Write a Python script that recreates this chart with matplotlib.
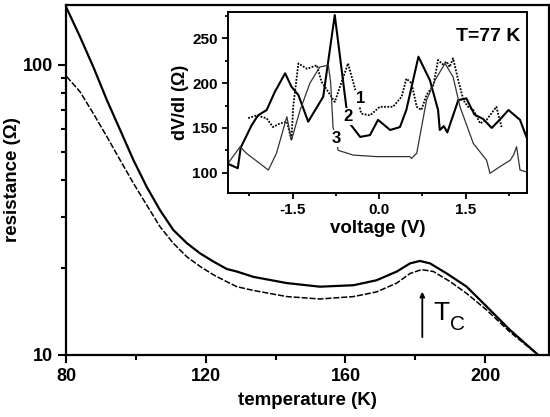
import numpy as np
import matplotlib
matplotlib.use("Agg")
import matplotlib.pyplot as plt
from matplotlib.ticker import FixedLocator, NullFormatter

plt.rcParams['font.family'] = ['Liberation Sans', 'DejaVu Sans']
plt.rcParams['font.weight'] = 'bold'
plt.rcParams['axes.labelweight'] = 'bold'

# ---- main panel: resistance vs temperature ----
temp_a = [80.2, 84.0, 87.8, 91.7, 95.5, 99.3, 103.1, 106.9, 110.7, 114.6, 118.4, 122.2, 126.0,
          128.9, 133.6, 143.2, 152.7, 162.3, 168.9, 174.7, 178.5, 181.3, 184.2, 189.0, 194.7,
          200.4, 207.1, 215.2]
res_a = [156.9, 125.2, 98.6, 75.7, 59.7, 47.0, 38.0, 31.6, 27.0, 24.3, 22.4, 21.0, 19.8,
         19.4, 18.6, 17.7, 17.2, 17.4, 18.1, 19.4, 20.7, 21.1, 20.7, 19.1, 17.2,
         14.7, 12.2, 10.0]
temp_b = [80.2, 84.0, 87.8, 91.7, 95.5, 99.3, 103.1, 106.9, 110.7, 114.6, 118.4, 122.2, 126.0,
          128.9, 133.6, 143.2, 152.7, 162.3, 168.9, 174.7, 178.5, 181.8, 185.2, 190.0, 194.7,
          200.4, 207.1, 215.2]
res_b = [91.2, 80.9, 68.1, 56.6, 47.0, 39.1, 32.9, 27.7, 24.3, 21.8, 20.2, 18.9, 17.9,
         17.2, 16.7, 15.9, 15.6, 15.9, 16.5, 17.7, 19.1, 19.7, 19.4, 17.9, 16.3,
         14.3, 12.0, 10.0]

# ---- inset: dV/dI vs voltage at T=77 K ----
volt_1 = [-2.27, -2.12, -1.95, -1.84, -1.72, -1.60, -1.52, -1.49, -1.40, -1.25, -1.08, -1.00, -0.92, -0.77,
          -0.62, -0.54, -0.42, -0.31, -0.16, 0.01, 0.24, 0.39, 0.47, 0.56, 0.65, 0.73, 0.82, 0.94, 1.02,
          1.10, 1.17, 1.22, 1.28, 1.37, 1.46, 1.54, 1.63, 1.75, 1.86, 2.03, 2.12]
dvdi_1 = [161, 164, 160.7, 151, 155, 157, 136.5, 173.6, 222, 216, 220, 201.6, 194, 179,
          207, 222, 194, 166, 164, 173.6, 173.6, 185, 205, 200, 173.6, 170, 186.7, 198, 225.8,
          221, 224, 218, 227.7, 203, 181, 173.6, 170, 155, 159, 173.6, 151]
volt_2 = [-2.62, -2.45, -2.40, -2.21, -2.10, -1.95, -1.81, -1.63, -1.52, -1.40, -1.23, -0.97, -0.77,
          -0.57, -0.51, -0.33, -0.16, -0.02, 0.19, 0.36, 0.47, 0.68, 0.88, 1.02, 1.05, 1.12, 1.18, 1.37,
          1.51, 1.65, 1.80, 1.95, 2.10, 2.24, 2.44, 2.55]
dvdi_2 = [110, 105, 128, 153, 164, 170, 190, 211, 196, 186.7, 157, 184.8, 276,
          173.6, 155, 140, 142, 159, 147.7, 151, 170, 229.5, 203, 170, 147.7, 152, 145, 181,
          183, 165, 160, 150, 160, 170, 159, 140]
volt_3 = [-2.64, -2.41, -2.30, -1.92, -1.78, -1.60, -1.52, -1.37, -1.20, -1.03, -0.88, -0.84, -0.80,
          -0.71, -0.45, -0.05, 0.53, 0.56, 0.65, 0.82, 0.97, 1.14, 1.28, 1.40, 1.63, 1.86, 1.92, 2.09,
          2.27, 2.33, 2.38, 2.44, 2.55]
dvdi_3 = [108.6, 129, 121.7, 103, 121.7, 162.5, 136.5, 170, 200, 218, 220, 200, 151,
          125, 119.7, 118, 118, 116, 121.7, 181, 203.5, 222, 207, 173.6, 132.8, 114, 99.3, 106.7,
          114, 120, 129, 103, 101]
curve_labels = ['1', '2', '3']
label_volt = [-0.33, -0.54, -0.74]
label_dvdi = [183, 162.5, 138.4]

fig = plt.figure(figsize=(5.5, 4.17), dpi=100)
ax = fig.add_axes([0.12, 0.1487, 0.879, 0.8393])
ax.plot(temp_a, res_a, color='black', lw=1.6)
ax.plot(temp_b, res_b, color='black', lw=1.1, ls=(0, (4, 1.2)))
ax.set_yscale('log')
ax.set_xlim(80, 218.4)
ax.set_ylim(10, 161)
ax.xaxis.set_major_locator(FixedLocator([80, 120, 160, 200]))
ax.xaxis.set_minor_locator(FixedLocator([100, 140, 180]))
ax.yaxis.set_major_locator(FixedLocator([10, 100]))
ax.yaxis.set_minor_locator(FixedLocator([20, 30, 40, 50, 60, 70, 80, 90]))
ax.yaxis.set_minor_formatter(NullFormatter())
ax.set_yticklabels(['10', '100'])
ax.tick_params(which='both', direction='out', labelsize=13, width=1.5)
ax.tick_params(which='major', length=6)
ax.tick_params(which='minor', length=3.5)
for s in ax.spines.values():
    s.set_linewidth(1.6)
ax.set_xlabel('temperature (K)', fontsize=13.5, fontweight='bold', labelpad=5)
ax.set_ylabel('resistance (Ω)', fontsize=13.5, fontweight='bold', labelpad=1)
ax.annotate('', xy=(182.0, 16.9), xytext=(182.0, 11.27),
            arrowprops=dict(arrowstyle='-|>', color='black', lw=1.3, mutation_scale=7))
ax.text(185.1, 13.2, 'T', fontsize=19, fontweight='normal', va='baseline', ha='left')
ax.text(189.9, 12.2, 'C', fontsize=15, fontweight='normal', va='baseline', ha='left')

# inset
ins = fig.add_axes([0.4145, 0.537, 0.5436, 0.434])
ins.plot(volt_1, dvdi_1, color='black', lw=1.3, ls=(0, (1.0, 0.8)))
ins.plot(volt_2, dvdi_2, color='black', lw=1.5)
ins.plot(volt_3, dvdi_3, color='#333333', lw=0.9)
ins.set_xlim(-2.62, 2.56)
ins.set_ylim(77.3, 279.3)
ins.xaxis.set_major_locator(FixedLocator([-1.5, 0.0, 1.5]))
ins.xaxis.set_minor_locator(FixedLocator([-2.25, -0.75, 0.75, 2.25]))
ins.yaxis.set_major_locator(FixedLocator([100, 150, 200, 250]))
ins.yaxis.set_minor_locator(FixedLocator([125, 175, 225, 275]))
ins.set_xticklabels(['-1.5', '0.0', '1.5'])
ins.tick_params(which='both', direction='out', labelsize=11, width=1.3)
ins.tick_params(which='major', length=4)
ins.tick_params(which='minor', length=2.5)
for s in ins.spines.values():
    s.set_linewidth(1.4)
ins.set_xlabel('voltage (V)', fontsize=13.5, fontweight='bold', labelpad=1.5)
ins.set_ylabel('dV/dI (Ω)', fontsize=13, fontweight='bold', labelpad=2)
ins.text(0.977, 0.91, 'T=77 K', transform=ins.transAxes, ha='right', va='top', fontsize=14)
for lab, xv, yv in zip(curve_labels, label_volt, label_dvdi):
    ins.text(xv, yv, lab, fontsize=12, ha='center', va='center', zorder=5,
             bbox=dict(boxstyle='square,pad=0.05', fc='white', ec='none'))

fig.savefig('out.png', dpi=100)
